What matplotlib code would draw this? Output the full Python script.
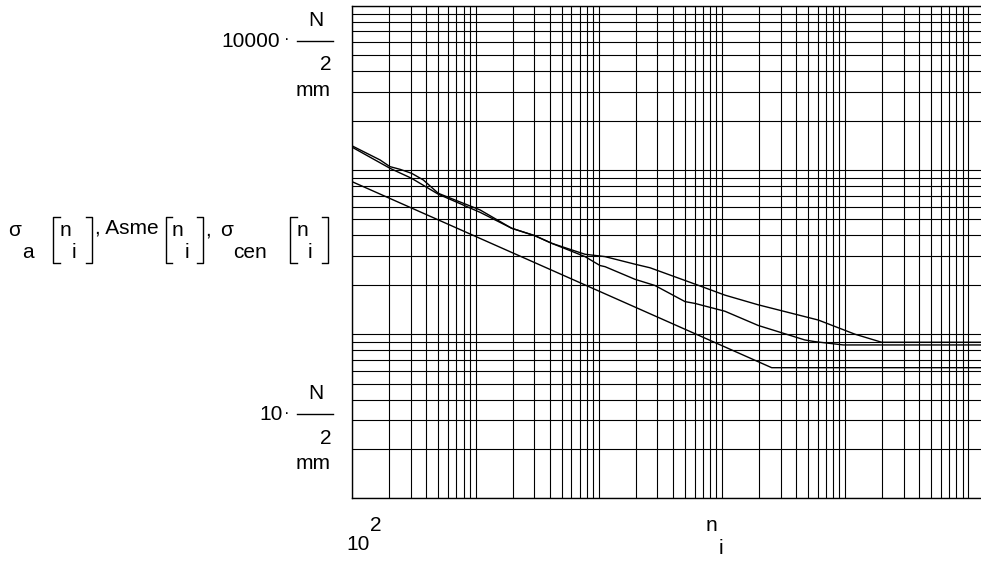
"""Fatigue curves sigma_a, ASME and sigma_cen over cycles n_i (log-log grid chart)."""

import matplotlib

matplotlib.use("Agg")
import matplotlib.pyplot as plt
from matplotlib.lines import Line2D
from matplotlib.ticker import LogLocator, NullFormatter

# cycles n_i and stress amplitude in N/mm^2
sigma_a_n = [100, 168, 202, 244, 303, 377, 499, 796, 1089, 1968, 3041, 4155, 7745,
             11250, 19710, 26090, 60450, 105800, 197400, 605300, 1.202e6, 1.982e6, 1.3e7]
sigma_a = [1403, 1153, 1050, 1011, 956, 871, 722, 628, 572, 442, 398, 358, 307,
           297, 267, 254, 202, 173, 151, 122, 100, 89.3, 89.3]

asme_n = [100, 202, 303, 499, 1089, 1968, 3041, 4155, 7745, 10260, 11250, 19710,
          28640, 50170, 60450, 105800, 197400, 469800, 566400, 966000, 1.3e7]
asme = [1377, 1026, 891, 713, 553, 442, 398, 358, 297, 262, 258, 216,
        198, 158, 154, 138, 113, 92.3, 90.1, 86, 86]

cen_n = [100, 253600, 1.3e7]
sigma_cen = [849, 62.5, 62.5]

x_limits = (100, 10 ** 7.103)
y_limits = (10, 10000)

W, H = 981, 565
FONT = "Liberation Sans"
FS = 15


def fx(x):
    return x / W


def fy(y):
    return 1 - y / H


def label(fig, x, y, s, size=FS, ha="center"):
    fig.text(fx(x), fy(y), s, ha=ha, va="center", fontsize=size, family=FONT)


def poly(fig, xs, ys, lw=1.0):
    fig.add_artist(Line2D([fx(v) for v in xs], [fy(v) for v in ys],
                          transform=fig.transFigure, color="black", lw=lw))


def unit_label(fig, value, cx, dy):
    label(fig, cx, 41.7 + dy, value)
    label(fig, 287, 40 + dy, "·", size=12)
    label(fig, 316, 20 + dy, "N")
    poly(fig, [296.7, 333.3], [40.7 + dy, 40.7 + dy])
    label(fig, 326, 65 + dy, "2")
    label(fig, 313.3, 90 + dy, "mm")


def bracket(fig, x0, x1, left=True):
    top, bot = 216.7, 263.3
    if left:
        poly(fig, [x1, x0, x0, x1], [top, top, bot, bot])
    else:
        poly(fig, [x0, x1, x1, x0], [top, top, bot, bot])


def main() -> None:
    fig = plt.figure(figsize=(W / 100, H / 100), dpi=100)
    fig.patch.set_facecolor("white")
    ax = fig.add_axes([fx(352.3), fy(498.3), fx(981 - 352.3), (498.3 - 6) / H])

    ax.plot(sigma_a_n, sigma_a, color="black", lw=1.0)
    ax.plot(asme_n, asme, color="black", lw=1.0)
    ax.plot(cen_n, sigma_cen, color="black", lw=1.0)

    ax.set_xscale("log")
    ax.set_yscale("log")
    ax.set_xlim(*x_limits)
    ax.set_ylim(*y_limits)
    for axis in (ax.xaxis, ax.yaxis):
        axis.set_major_locator(LogLocator(base=10, numticks=20))
        axis.set_minor_locator(LogLocator(base=10, subs=range(2, 10), numticks=200))
        axis.set_minor_formatter(NullFormatter())
    ax.grid(True, which="both", color="black", lw=0.8)
    ax.tick_params(which="both", length=0, labelbottom=False, labelleft=False)
    ax.spines["right"].set_visible(False)
    for side in ("left", "top", "bottom"):
        ax.spines[side].set_color("black")
        ax.spines[side].set_linewidth(1.0)

    # y-axis limits with units
    unit_label(fig, "10000", 251, 0)
    unit_label(fig, "10", 271, 373.3)

    # y-axis title: sigma_a[n_i], Asme[n_i], sigma_cen[n_i]
    label(fig, 15, 230, "σ")
    label(fig, 28, 253, "a")
    bracket(fig, 53.3, 60)
    label(fig, 65, 230, "n")
    label(fig, 74, 253, "i")
    bracket(fig, 86, 92, left=False)
    label(fig, 95, 228, ", Asme", ha="left")
    bracket(fig, 166, 172)
    label(fig, 177, 230, "n")
    label(fig, 187, 253, "i")
    bracket(fig, 197, 203, left=False)
    label(fig, 208, 230, ",")
    label(fig, 227, 230, "σ")
    label(fig, 250, 253, "cen")
    bracket(fig, 290, 297)
    label(fig, 302, 230, "n")
    label(fig, 310, 253, "i")
    bracket(fig, 322, 328, left=False)

    # x-axis lower limit and title
    label(fig, 375.8, 525.7, "2")
    label(fig, 358, 544, "10")
    label(fig, 711.7, 525.5, "n")
    label(fig, 721, 549, "i")

    fig.savefig("out.png", dpi=100, facecolor="white")
    plt.close(fig)


if __name__ == "__main__":
    main()
